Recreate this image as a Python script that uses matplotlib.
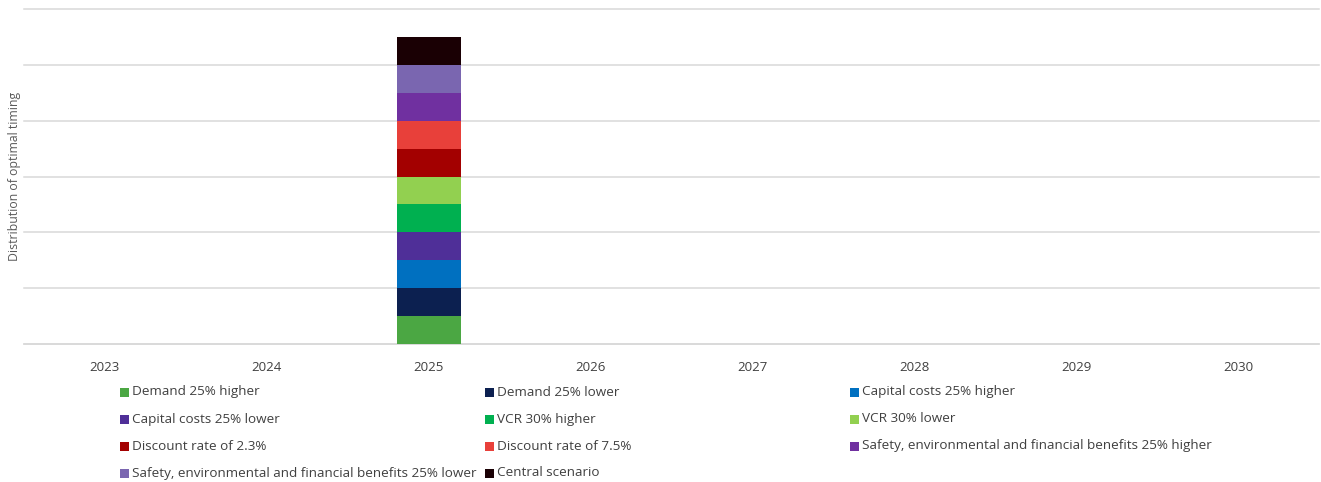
import matplotlib
matplotlib.use("Agg")
import matplotlib.pyplot as plt
from matplotlib.patches import Rectangle

plt.rcParams['font.family'] = ['Open Sans', 'DejaVu Sans']

years = ["2023", "2024", "2025", "2026", "2027", "2028", "2029", "2030"]

scenarios = [
    "Demand 25% higher",
    "Demand 25% lower",
    "Capital costs 25% higher",
    "Capital costs 25% lower",
    "VCR 30% higher",
    "VCR 30% lower",
    "Discount rate of 2.3%",
    "Discount rate of 7.5%",
    "Safety, environmental and financial benefits 25% higher",
    "Safety, environmental and financial benefits 25% lower",
    "Central scenario",
]

# Number of scenarios for which each year is the optimal timing
demand_high = [0, 0, 1, 0, 0, 0, 0, 0]
demand_low = [0, 0, 1, 0, 0, 0, 0, 0]
capex_high = [0, 0, 1, 0, 0, 0, 0, 0]
capex_low = [0, 0, 1, 0, 0, 0, 0, 0]
vcr_high = [0, 0, 1, 0, 0, 0, 0, 0]
vcr_low = [0, 0, 1, 0, 0, 0, 0, 0]
discount_low = [0, 0, 1, 0, 0, 0, 0, 0]
discount_high = [0, 0, 1, 0, 0, 0, 0, 0]
benefits_high = [0, 0, 1, 0, 0, 0, 0, 0]
benefits_low = [0, 0, 1, 0, 0, 0, 0, 0]
central = [0, 0, 1, 0, 0, 0, 0, 0]

series = [demand_high, demand_low, capex_high, capex_low, vcr_high, vcr_low,
          discount_low, discount_high, benefits_high, benefits_low, central]

colors = ["#4BA743", "#0C2050", "#0070C0", "#4F2F98", "#00B050", "#92D050",
          "#A30000", "#E8403A", "#7030A0", "#7A66B0", "#1A0004"]

fig = plt.figure(figsize=(13.21, 4.82), dpi=100)
ax = fig.add_axes([0.018, 0.2863, 0.9806, 0.695])

x = list(range(len(years)))
bottom = [0] * len(years)
for vals, col, name in zip(series, colors, scenarios):
    ax.bar(x, vals, width=0.395, bottom=bottom, color=col, label=name, zorder=3)
    bottom = [b + v for b, v in zip(bottom, vals)]

ax.set_xlim(-0.5, len(years) - 0.5)
ax.set_ylim(0, 12)
ax.set_yticks(range(0, 13, 2))
ax.yaxis.grid(True, color="#D9D9D9", linewidth=1.1, zorder=0)
for gl in ax.get_ygridlines():
    gl.set_clip_on(False)
ax.tick_params(axis="y", left=False, labelleft=False)
ax.tick_params(axis="x", bottom=False, labelsize=9.5, colors="#404040", pad=9)
ax.set_xticks(x)
ax.set_xticklabels(years)
for side in ("top", "right", "left"):
    ax.spines[side].set_visible(False)
ax.spines["bottom"].set_color("#D9D9D9")
ax.spines["bottom"].set_linewidth(1.1)

ax.set_ylabel("Distribution of optimal timing", fontsize=8.8, color="#595959")
ax.yaxis.set_label_coords(-0.0025, 0.5)

# Legend: three fixed-width columns, filled row by row
W, H = fig.get_size_inches() * fig.dpi
col_x = [120, 485, 850]
row_y = [392, 419, 446, 473]
sq = 9
for i, (name, col) in enumerate(zip(scenarios, colors)):
    r, c = divmod(i, 3)
    px, py = col_x[c], row_y[r]
    fig.patches.append(Rectangle((px / W, 1 - (py + sq / 2) / H), sq / W, sq / H,
                                 transform=fig.transFigure, facecolor=col,
                                 edgecolor="none"))
    fig.text((px + sq + 3) / W, 1 - py / H, name, fontsize=9.7, color="#404040",
             va="center", ha="left")

fig.savefig("out.png", dpi=100)
